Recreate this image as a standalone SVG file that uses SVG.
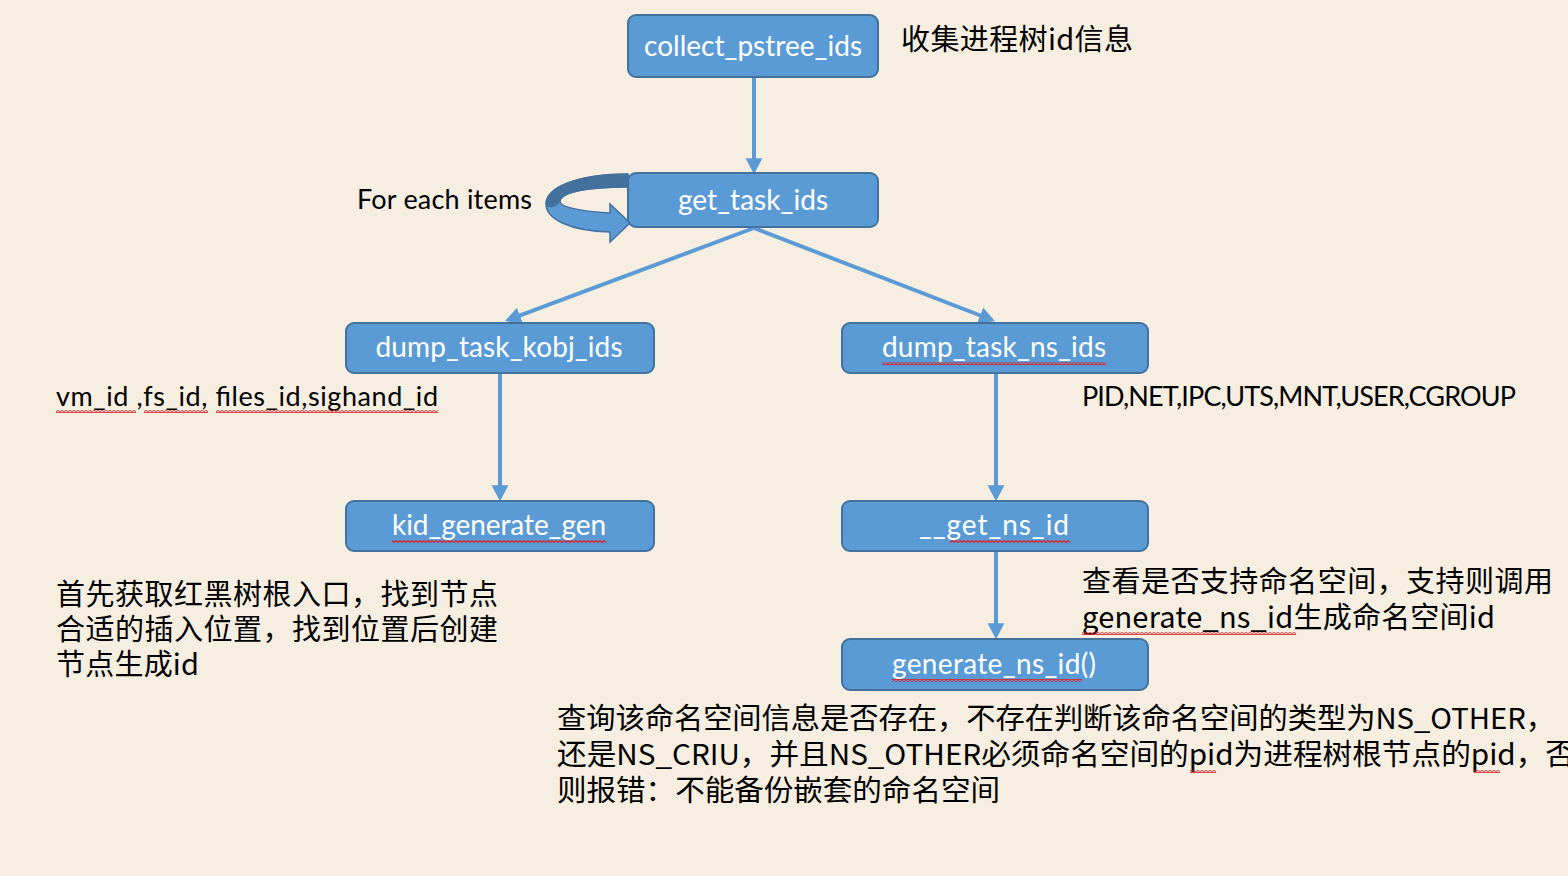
<svg xmlns="http://www.w3.org/2000/svg" width="1568" height="876" viewBox="0 0 1568 876">
<defs>
<style>
.box{fill:#5b9bd5;stroke:#41719c;stroke-width:2}
.bt{fill:#ffffff;font-family:Lato,"Open Sans","Noto Sans CJK SC",sans-serif;font-size:28px;text-anchor:middle}
.t{fill:#000000;font-family:Lato,"Open Sans","Noto Sans CJK SC",sans-serif;font-size:27px}
.cn{fill:#000000;font-family:"Noto Sans CJK SC",sans-serif;font-size:29px}
.ln{stroke:#5b9bd5;stroke-width:4;fill:none;marker-end:url(#ah)}
.sq{fill:url(#sqp)}
</style>
<marker id="ah" markerWidth="5" markerHeight="5" refX="3.2" refY="2.5" orient="auto" markerUnits="strokeWidth" viewBox="0 0 5 5">
<path d="M0,0.4 L4,2.5 L0,4.6 Z" fill="#5b9bd5"/>
</marker>
<pattern id="sqp" width="4" height="3" patternUnits="userSpaceOnUse">
<path d="M0,0.6 L2,2.4 L4,0.6" stroke="#d9262a" stroke-width="1.3" fill="none"/>
</pattern>
</defs>
<rect width="1568" height="876" fill="#f6eee1"/>

<g id="connectors">
<line class="ln" x1="754" y1="78" x2="754" y2="171"/>
<line class="ln" x1="754" y1="228" x2="508" y2="320"/>
<line class="ln" x1="754" y1="228" x2="992" y2="320"/>
<line class="ln" x1="500" y1="374" x2="500" y2="498"/>
<line class="ln" x1="996" y1="374" x2="996" y2="498"/>
<line class="ln" x1="996" y1="552" x2="996" y2="636"/>
<g id="loop">
<path d="M628,174 L628,187 C588,187 562,192 560,201 C559,206 575,211 610,213 L610,204 L630,223 L610,242 L610,232 C570,231 546,219 546,204 C546,187 578,174 628,174 Z" fill="#5b9bd5" stroke="#41719c" stroke-width="1.5"/>
<path d="M628,174 L628,187 C588,187 562,192 560,201 C559,205 548,210 546,204 C546,187 578,174 628,174 Z" fill="#41719c" stroke="#41719c" stroke-width="1"/>
</g>
</g>

<g id="n_collect">
<rect class="box" x="628" y="15" width="250" height="62" rx="8"/>
<text class="bt" x="753" y="56" textLength="218">collect_pstree_ids</text>
</g>
<g id="n_get_task_ids">
<rect class="box" x="628" y="173" width="250" height="54" rx="8"/>
<text class="bt" x="753" y="210" textLength="150">get_task_ids</text>
</g>
<g id="n_kobj">
<rect class="box" x="346" y="323" width="308" height="50" rx="8"/>
<text class="bt" x="499" y="357" textLength="247">dump_task_kobj_ids</text>
</g>
<g id="n_ns">
<rect class="box" x="842" y="323" width="306" height="50" rx="8"/>
<text class="bt" x="994" y="357" textLength="224">dump_task_ns_ids</text>
<rect class="sq" x="882" y="362" width="224" height="3"/>
</g>
<g id="n_kid">
<rect class="box" x="346" y="501" width="308" height="50" rx="8"/>
<text class="bt" x="499" y="535" textLength="214">kid_generate_gen</text>
<rect class="sq" x="392" y="540" width="214" height="3"/>
</g>
<g id="n_get_ns_id">
<rect class="box" x="842" y="501" width="306" height="50" rx="8"/>
<text class="bt" x="994" y="535" textLength="150">__get_ns_id</text>
<rect class="sq" x="950" y="540" width="120" height="3"/>
</g>
<g id="n_generate">
<rect class="box" x="842" y="639" width="306" height="51" rx="8"/>
<text class="bt" x="994" y="674" textLength="204">generate_ns_id()</text>
<rect class="sq" x="892" y="679" width="190" height="3"/>
</g>

<g id="labels">
<text class="cn" x="901" y="50" textLength="232">收集进程树id信息</text>
<text class="t" x="357" y="209" textLength="175">For each items</text>
<text class="t" x="56" y="406" textLength="382">vm_id ,fs_id, files_id,sighand_id</text>
<rect class="sq" x="56" y="410" width="80" height="3"/>
<rect class="sq" x="144" y="410" width="64" height="3"/>
<rect class="sq" x="216" y="410" width="222" height="3"/>
<text class="t" x="1082" y="406" textLength="434">PID,NET,IPC,UTS,MNT,USER,CGROUP</text>
<text class="cn" x="56" y="605" textLength="442">首先获取红黑树根入口，找到节点</text>
<text class="cn" x="56" y="640" textLength="442">合适的插入位置，找到位置后创建</text>
<text class="cn" x="56" y="675" textLength="143">节点生成id</text>
<text class="cn" x="1082" y="592" textLength="471">查看是否支持命名空间，支持则调用</text>
<text class="cn" x="1082" y="628" textLength="413">generate_ns_id生成命名空间id</text>
<rect class="sq" x="1082" y="632" width="214" height="3"/>
<text class="cn" x="557" y="729" textLength="998" lengthAdjust="spacingAndGlyphs">查询该命名空间信息是否存在，不存在判断该命名空间的类型为NS_OTHER，</text>
<text class="cn" x="557" y="765" textLength="1018" lengthAdjust="spacingAndGlyphs">还是NS_CRIU，并且NS_OTHER必须命名空间的pid为进程树根节点的pid，否</text>
<rect class="sq" x="1190" y="770" width="26" height="3"/>
<rect class="sq" x="1474" y="770" width="26" height="3"/>
<text class="cn" x="557" y="801" textLength="443" lengthAdjust="spacingAndGlyphs">则报错：不能备份嵌套的命名空间</text>
</g>
</svg>
